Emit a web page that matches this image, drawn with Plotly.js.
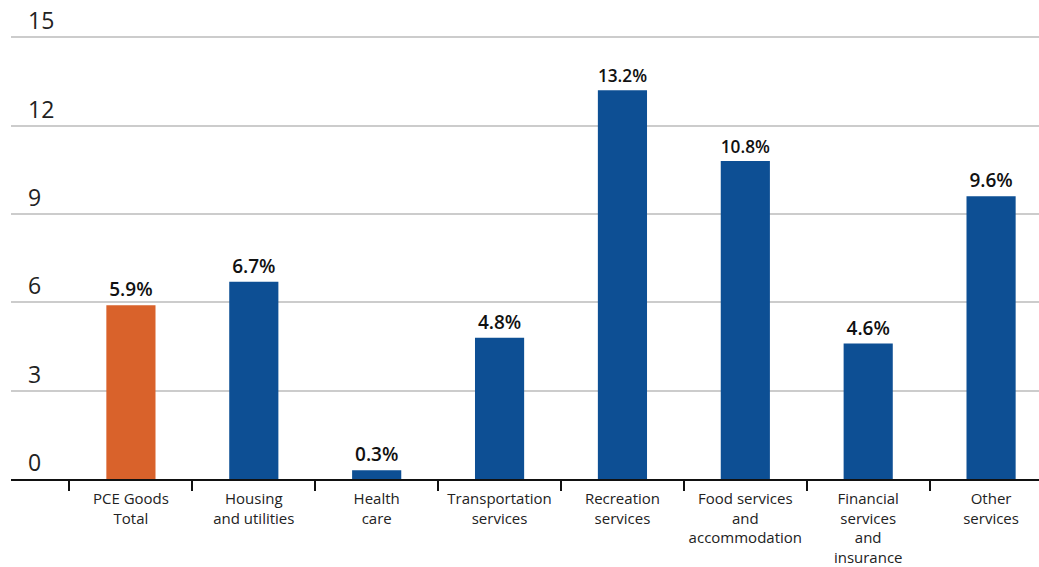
<!DOCTYPE html>
<html>
<head>
<meta charset="utf-8">
<script src="https://cdn.plot.ly/plotly-3.0.1.min.js"></script>
<style>html,body{margin:0;padding:0;background:#fff;}#chart{width:1039px;height:567px;}</style>
</head>
<body>
<div id="chart"></div>
<script>
const categories = ["PCE Goods<br>Total", "Housing<br>and utilities", "Health<br>care", "Transportation<br>services", "Recreation<br>services", "Food services<br>and<br>accommodation", "Financial<br>services<br>and<br>insurance", "Other<br>services"];
const values = [5.9, 6.7, 0.3, 4.8, 13.2, 10.8, 4.6, 9.6];
const barColors = ["#D9622B", "#0D4F94", "#0D4F94", "#0D4F94", "#0D4F94", "#0D4F94", "#0D4F94", "#0D4F94"];
const yTicks = [0, 3, 6, 9, 12, 15];

const trace = {
  type: "bar",
  x: categories,
  y: values,
  marker: {color: barColors},
  text: values.map(v => v.toFixed(1) + "%"),
  textposition: "outside",
  cliponaxis: false,
  textfont: {family: "Open Sans", size: 19, color: "#111", weight: 600},
  hoverinfo: "none"
};

const layout = {
  width: 1039, height: 567,
  margin: {l: 11, r: 0, t: 2, b: 88},
  paper_bgcolor: "#fff", plot_bgcolor: "#fff",
  bargap: 0.6,
  showlegend: false,
  font: {family: "Open Sans", color: "#222"},
  xaxis: {
    type: "category",
    range: [-0.976, 7.39],
    showline: true, linecolor: "#111", linewidth: 2,
    ticks: "outside", tickson: "boundaries", ticklen: 10, tickwidth: 2, tickcolor: "#111",
    tickangle: 0,
    ticklabelstandoff: 5,
    tickfont: {family: "Open Sans", size: 15, color: "#222"},
    showgrid: false, zeroline: false
  },
  yaxis: {
    range: [0, 16.2],
    tickvals: yTicks,
    ticktext: yTicks.map(String),
    ticklabelposition: "inside top",
    ticklabelstandoff: 14,
    tickfont: {family: "Open Sans", size: 23, color: "#222"},
    showgrid: true, gridcolor: "#cccccc", gridwidth: 2,
    zeroline: false, showline: false, ticks: ""
  }
};

Plotly.newPlot("chart", [trace], layout, {displayModeBar: false, staticPlot: true});
</script>
</body>
</html>
